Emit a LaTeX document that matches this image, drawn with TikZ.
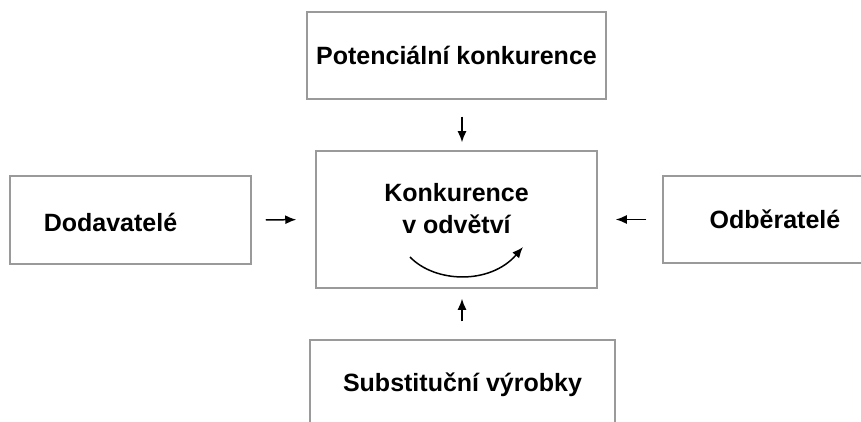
\documentclass[tikz,border=0pt]{standalone}
\usepackage{fontspec}
\setmainfont{Liberation Sans}
\usepackage{xcolor}
\usepackage{tikz}
\usetikzlibrary{positioning,arrows.meta}
\definecolor{boxgray}{HTML}{9A9A9A}
\tikzset{
  force/.style={draw=boxgray, line width=1.5pt, inner sep=0pt,
    font=\bfseries\fontsize{25}{32}\selectfont, align=center},
  label text/.style={font=\bfseries\fontsize{25}{32}\selectfont, align=center},
  push/.style={black, line width=1.5pt, -{Latex[length=11pt,width=9pt]}}
}

\begin{document}
\begin{tikzpicture}[x=1pt,y=-1pt]
\useasboundingbox (0,0) rectangle (861,422);
\clip (0,0) rectangle (861,422);
% boxes
\node[force, minimum width=281pt, minimum height=137pt] (konk) at (456.5,219.5) {};
\node[label text] (konktxt) at ([yshift=10.5pt]konk.center) {Konkurence\\v odvětví};
\node[force, minimum width=299pt, minimum height=87pt] (potenc) at (456.5,55.5) {Potenciální konkurence};
\node[force, minimum width=241pt, minimum height=88pt] (dodav) at (130.5,220) {};
\node[label text] (dodavtxt) at ([xshift=-20pt,yshift=-2pt]dodav.center) {Dodavatelé};
\node[force, minimum width=224pt, minimum height=87pt] (odber) at (775,219.5) {Odběratelé};
\node[force, minimum width=305pt, minimum height=90pt] (subst) at (462.5,385) {Substituční výrobky};
% arrows
\draw[push, shorten <=17pt, shorten >=8pt] ([xshift=5.5pt]potenc.south) -- ([xshift=5.5pt]konk.north);
\draw[push, shorten <=18pt, shorten >=10pt] ([xshift=-0.5pt]subst.north) -- ([xshift=5.5pt]konk.south);
\draw[push, shorten <=14pt, shorten >=19pt] (dodav.east) -- (konk.west);
\draw[push, shorten <=16pt, shorten >=18pt] (odber.west) -- (konk.east);
% rivalry
\draw[push] (410,257) .. controls (435,283) and (490,285) .. (523,247);
\end{tikzpicture}
\end{document}
